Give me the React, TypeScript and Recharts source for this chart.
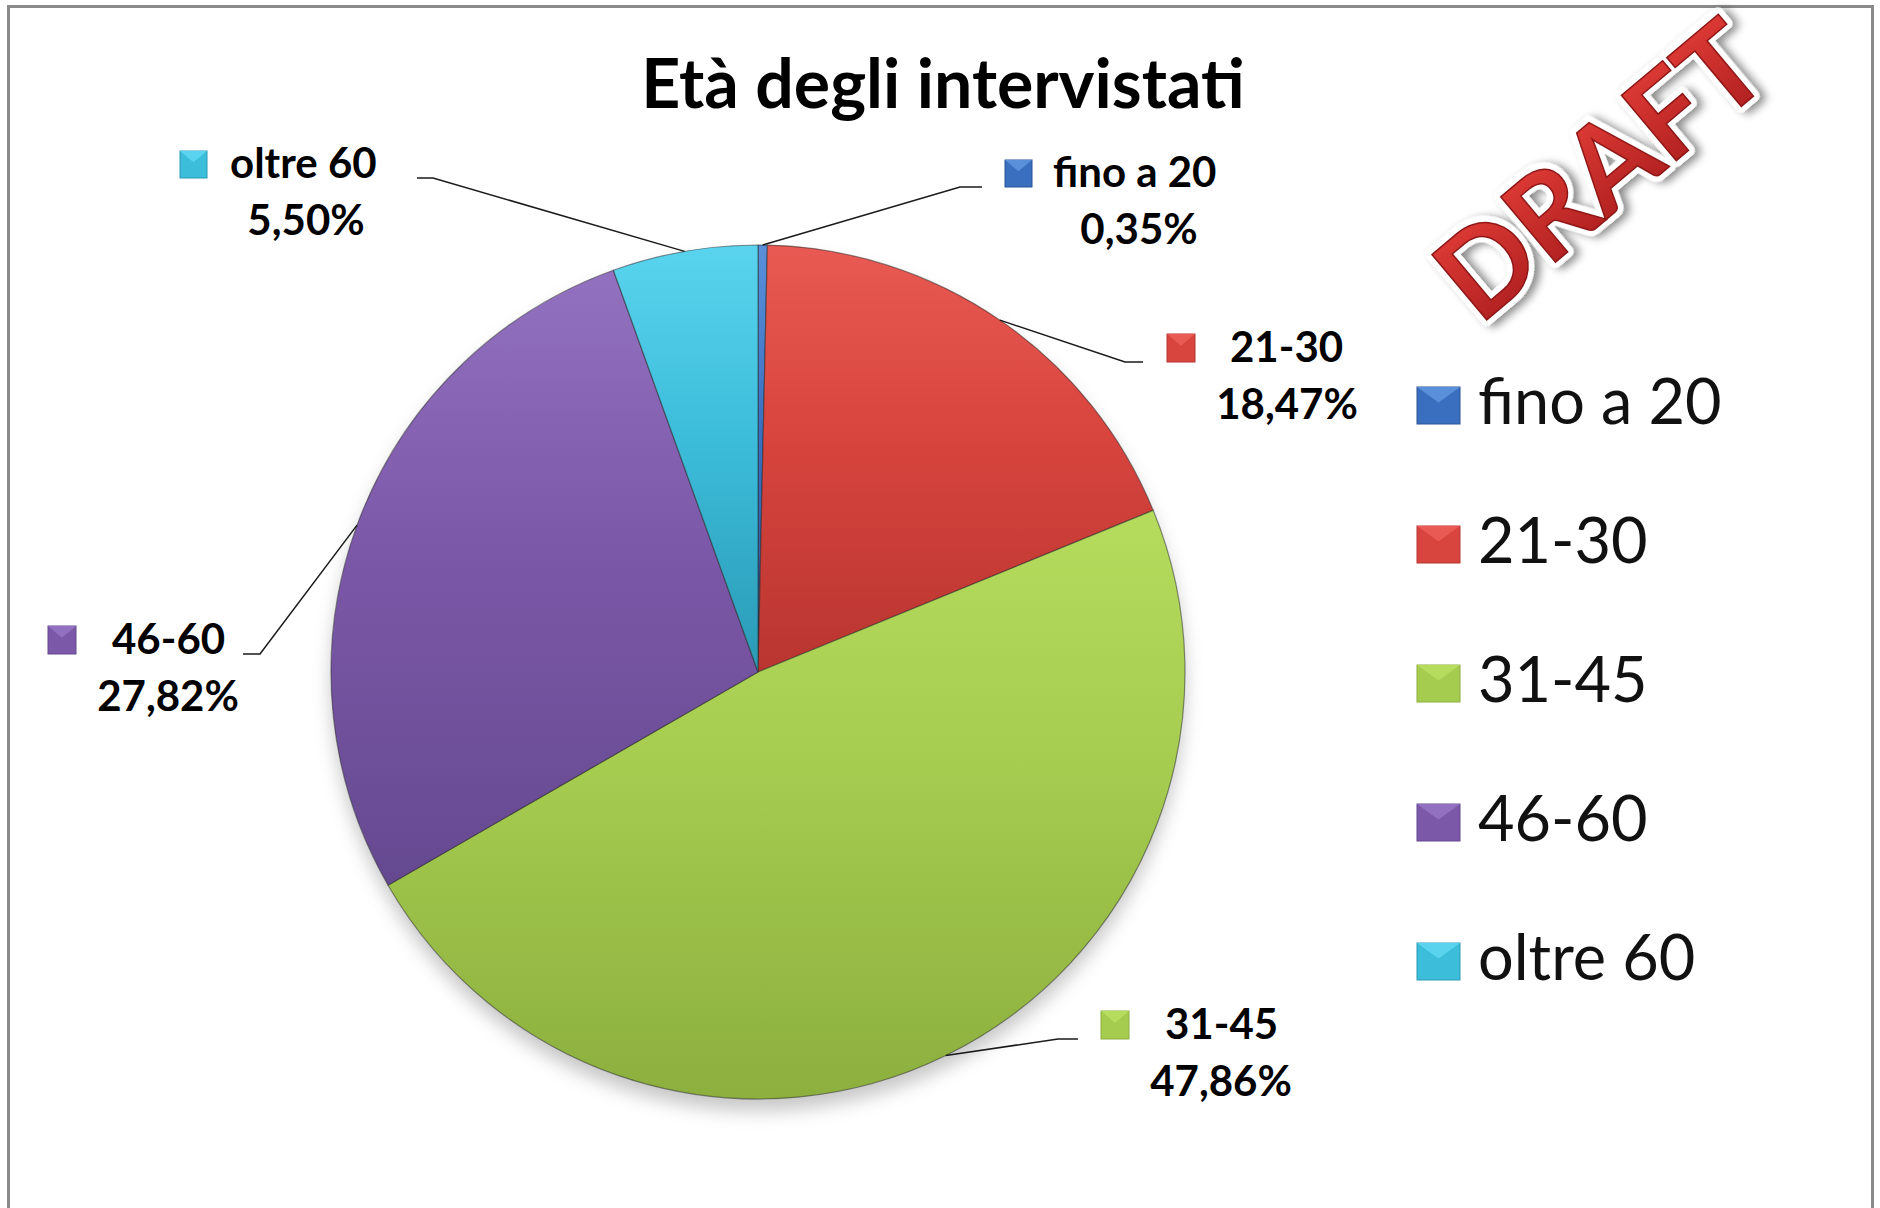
import React from 'react';
import { PieChart, Pie, Cell, Legend } from 'recharts';

const categories = ['fino a 20', '21-30', '31-45', '46-60', 'oltre 60'];
const shares = [0.35, 18.47, 47.86, 27.82, 5.5];

const data = categories.map((name, i) => ({ name, value: shares[i] }));

// base / light / dark tones per slice
const COLORS = ['#3A6FBF', '#D8443E', '#A5CB4F', '#7C58A8', '#3CBDDA'];
const LIGHT = ['#5A8FDA', '#E85A53', '#B6DC5E', '#9272C0', '#5AD4EE'];
const DARK = ['#2B5596', '#B93530', '#8CAF3E', '#654990', '#2A9AB6'];

const FONT = 'Lato, "Open Sans", sans-serif';

// data label placement, relative to the pie centre
const LABEL_LAYOUT = [
  { mx: 247, by: -485, nameDx: 48, pctDx: 134, endX: 224, elbow: -22, size: 27 },
  { mx: 409, by: -310, nameDx: 63, pctDx: 120, endX: 385, elbow: -18, size: 28 },
  { mx: 343, by: 367, nameDx: 64, pctDx: 120, endX: 320, elbow: -20, size: 28 },
  { mx: -710, by: -18, nameDx: 64, pctDx: 120, endX: -515, elbow: 17, size: 28 },
  { mx: -578, by: -494, nameDx: 50, pctDx: 126, endX: -341, elbow: 16, size: 27 },
];

const fmt = (v: number) => v.toFixed(2).replace('.', ',') + '%';

const Marker = ({ x, y, w, h, i }: { x: number; y: number; w: number; h: number; i: number }) => (
  <g>
    <rect x={x} y={y} width={w} height={h} fill={COLORS[i]} stroke={DARK[i]} strokeWidth={1} />
    <polygon points={`${x},${y} ${x + w},${y} ${x + w / 2},${y + h * 0.42}`} fill={LIGHT[i]} />
  </g>
);

const renderLabel = (props: any) => {
  const { cx, cy, midAngle, outerRadius, index } = props;
  const RAD = Math.PI / 180;
  const sx = cx + outerRadius * Math.cos(-midAngle * RAD);
  const sy = cy + outerRadius * Math.sin(-midAngle * RAD);
  const L = LABEL_LAYOUT[index];
  const ey = cy + L.by;
  const ex = cx + L.endX;
  const kx = ex + L.elbow;
  const mx = cx + L.mx;
  return (
    <g key={`lbl-${index}`}>
      <polyline points={`${sx},${sy} ${kx},${ey} ${ex},${ey}`} fill="none" stroke="#1a1a1a" strokeWidth={1.5} />
      <Marker x={mx} y={ey - L.size} w={L.size} h={L.size} i={index} />
      <text x={mx + L.nameDx} y={ey} fontFamily={FONT} fontWeight={700} fontSize={42} fill="#000">
        {categories[index]}
      </text>
      <text x={mx + L.pctDx} y={ey + 57} textAnchor="middle" fontFamily={FONT} fontWeight={700} fontSize={42} fill="#000">
        {fmt(shares[index])}
      </text>
    </g>
  );
};

const LegendContent = () => (
  <svg width={460} height={640} style={{ overflow: 'visible' }}>
    {categories.map((c, i) => {
      const base = 52 + i * 139;
      return (
        <g key={c}>
          <Marker x={0} y={base - 37} w={43} h={37} i={i} />
          <text x={61} y={base} fontFamily={FONT} fontSize={63} fill="#111">
            {c}
          </text>
        </g>
      );
    })}
  </svg>
);

export default function App() {
  return (
    <div style={{ position: 'relative', width: 1880, height: 1208, background: '#fff', overflow: 'hidden' }}>
      <style>{'body{margin:0;background:#fff}'}</style>
      <PieChart width={1880} height={1208}>
        <defs>
          {COLORS.map((c, i) => (
            <linearGradient key={i} id={`g${i}`} x1="0" y1="0" x2="0" y2="1">
              <stop offset="0%" stopColor={LIGHT[i]} />
              <stop offset="45%" stopColor={c} />
              <stop offset="100%" stopColor={DARK[i]} />
            </linearGradient>
          ))}
          <filter id="pieShadow" x="-20%" y="-20%" width="140%" height="140%">
            <feGaussianBlur stdDeviation="9" />
          </filter>
        </defs>
        <Pie
          data={data}
          dataKey="value"
          nameKey="name"
          cx={753}
          cy={679}
          outerRadius={427}
          startAngle={90}
          endAngle={-270}
          fill="#000"
          fillOpacity={0.22}
          stroke="none"
          filter="url(#pieShadow)"
          legendType="none"
          isAnimationActive={false}
        />
        <Pie
          data={data}
          dataKey="value"
          nameKey="name"
          cx={753}
          cy={667}
          outerRadius={427}
          startAngle={90}
          endAngle={-270}
          label={renderLabel}
          labelLine={false}
          isAnimationActive={false}
        >
          {data.map((d, i) => (
            <Cell key={d.name} fill={`url(#g${i})`} stroke="rgba(40,40,40,0.5)" strokeWidth={1.2} />
          ))}
        </Pie>
        <Legend
          layout="vertical"
          verticalAlign="top"
          align="right"
          content={<LegendContent />}
          wrapperStyle={{ position: 'absolute', left: 1417, top: 372, width: 460 }}
        />
      </PieChart>
      <svg width={1880} height={1208} style={{ position: 'absolute', left: 0, top: 0, pointerEvents: 'none' }}>
        <defs>
          <linearGradient id="draftFill" x1="0" y1="0" x2="0" y2="1">
            <stop offset="0%" stopColor="#E8403A" />
            <stop offset="100%" stopColor="#A81C1C" />
          </linearGradient>
          <filter id="draftShadow" x="-20%" y="-20%" width="140%" height="140%">
            <feDropShadow dx="4" dy="5" stdDeviation="4" floodColor="#000" floodOpacity="0.45" />
          </filter>
        </defs>
        <rect x={8.5} y={6.5} width={1864} height={1240} fill="none" stroke="#8a8a8a" strokeWidth={3} />
        <text x={943} y={108} textAnchor="middle" fontFamily={FONT} fontWeight={700} fontSize={68} fill="#000">
          Età degli intervistati
        </text>
        <g transform="translate(1600,170) rotate(-40)">
          <text x={0} y={42} textAnchor="middle" fontFamily={FONT} fontWeight={700} fontSize={118}
            fill="#fff" stroke="#fff" strokeWidth={12} strokeLinejoin="round" filter="url(#draftShadow)">
            DRAFT
          </text>
          <text x={0} y={42} textAnchor="middle" fontFamily={FONT} fontWeight={700} fontSize={118}
            fill="url(#draftFill)" stroke="#8E1616" strokeWidth={1.5}>
            DRAFT
          </text>
        </g>
      </svg>
    </div>
  );
}
